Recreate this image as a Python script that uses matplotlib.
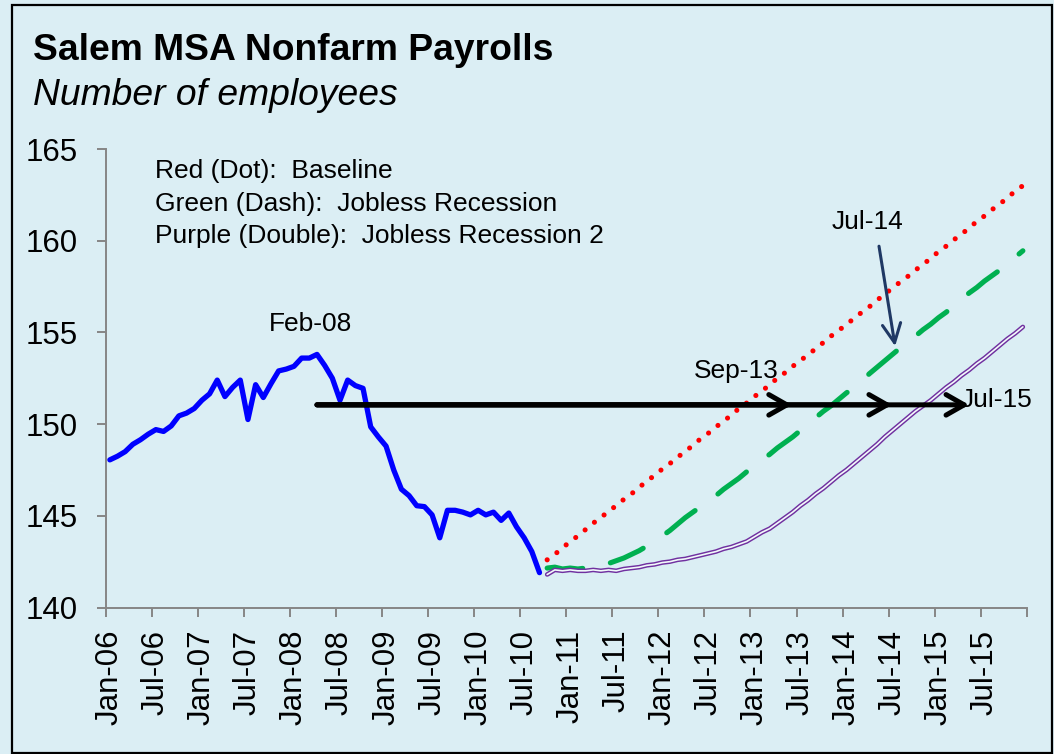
import matplotlib
matplotlib.use("Agg")
import matplotlib.pyplot as plt
from matplotlib.patches import FancyArrowPatch, Rectangle

# ---------------- data (thousands of employees, monthly Jan-06 .. Dec-15) ----------------
actual_values = [
    148.05, 148.25, 148.5, 148.9, 149.15, 149.45, 149.7, 149.6, 149.9, 150.45,
    150.6, 150.85, 151.3, 151.65, 152.4, 151.5, 152.0, 152.4, 150.25, 152.15,
    151.45, 152.2, 152.9, 153.0, 153.15, 153.6, 153.6, 153.8, 153.2, 152.5,
    151.3, 152.4, 152.1, 151.95, 149.85, 149.3, 148.8, 147.5, 146.45, 146.1,
    145.55, 145.5, 145.05, 143.8, 145.3, 145.3, 145.2, 145.05, 145.3, 145.05,
    145.2, 144.75, 145.15, 144.4, 143.8, 143.05, 141.9,
]
baseline_values = [
    142.6, 142.9, 143.25, 143.6, 143.9, 144.25, 144.6, 144.9, 145.25, 145.55,
    145.9, 146.2, 146.55, 146.9, 147.2, 147.55, 147.85, 148.2, 148.5, 148.85,
    149.2, 149.5, 149.85, 150.15, 150.5, 150.85, 151.15, 151.5, 151.8, 152.15,
    152.5, 152.8, 153.15, 153.45, 153.8, 154.1, 154.45, 154.8, 155.1, 155.45,
    155.75, 156.1, 156.4, 156.75, 157.1, 157.4, 157.75, 158.05, 158.4, 158.7,
    159.05, 159.4, 159.7, 160.05, 160.35, 160.7, 161.05, 161.35, 161.7, 162.0,
    162.35, 162.7, 163.0,
]
jobless_values = [
    142.15, 142.2, 142.1, 142.15, 142.1, 142.15, 142.2, 142.3, 142.4, 142.55,
    142.7, 142.9, 143.1, 143.35, 143.6, 143.9, 144.2, 144.55, 144.9, 145.2,
    145.5, 145.8, 146.1, 146.45, 146.75, 147.05, 147.4, 147.7, 148.05, 148.35,
    148.7, 149.0, 149.3, 149.65, 150.0, 150.35, 150.7, 151.0, 151.35, 151.7,
    152.0, 152.35, 152.75, 153.1, 153.45, 153.8, 154.15, 154.45, 154.8, 155.15,
    155.45, 155.8, 156.1, 156.45, 156.8, 157.15, 157.45, 157.8, 158.1, 158.4,
    158.8, 159.1, 159.45,
]
jobless2_values = [
    141.8, 142.05, 142.0, 142.05, 142.0, 142.0, 142.05, 142.0, 142.05, 142.0,
    142.1, 142.15, 142.2, 142.3, 142.35, 142.45, 142.5, 142.6, 142.65, 142.75,
    142.85, 142.95, 143.05, 143.2, 143.3, 143.45, 143.6, 143.85, 144.1, 144.3,
    144.6, 144.9, 145.2, 145.55, 145.85, 146.2, 146.5, 146.85, 147.2, 147.5,
    147.85, 148.2, 148.55, 148.9, 149.3, 149.65, 150.0, 150.35, 150.7, 151.0,
    151.3, 151.65, 152.0, 152.3, 152.65, 152.95, 153.3, 153.6, 153.95, 154.3,
    154.65, 154.95, 155.3,
]
tick_labels = [
    "Jan-06", "Jul-06", "Jan-07", "Jul-07", "Jan-08", "Jul-08", "Jan-09", "Jul-09",
    "Jan-10", "Jul-10", "Jan-11", "Jul-11", "Jan-12", "Jul-12", "Jan-13", "Jul-13",
    "Jan-14", "Jul-14", "Jan-15", "Jul-15",
]
n_months = 120
forecast_start = len(actual_values)

# annotation anchors (month index, value)
arrow_level = 151.05
arrow_start = 27
arrow_ends = [88.9, 101.95, 112.0]
annotations = [("Feb-08", 26.2, 155.45), ("Sep-13", 81.6, 152.9),
               ("Jul-14", 98.8, 161.0), ("Jul-15", 115.5, 151.3)]
jul14_arrow = [(100.25, 159.7), (102.35, 154.25)]

# ---------------- style ----------------
BG = "#DBEEF4"
FONT = "Liberation Sans"
plt.rcParams["font.family"] = [FONT, "DejaVu Sans"]

W, H = 1054, 754
fig = plt.figure(figsize=(W / 100, H / 100), dpi=100, facecolor=BG)
ax = fig.add_axes([106 / W, 1 - 607.5 / H, (1026.7 - 106) / W, (607.5 - 149) / H])
ax.set_facecolor(BG)

x_act = list(range(forecast_start))
x_fc = list(range(forecast_start, n_months))

ax.plot(x_act, actual_values, color="#0000FF", lw=3.8, solid_joinstyle="round",
        solid_capstyle="round", zorder=5)
ax.plot(x_fc, baseline_values, color="#FF0000", lw=3.7,
        linestyle=(0, (0.001, 2.35)), dash_capstyle="round", zorder=4)
ax.plot(x_fc, jobless_values, color="#00B050", lw=3.7,
        linestyle=(0, (7.0, 5.5)), dash_capstyle="round", zorder=4)
# double line: purple outline with a light core
ax.plot(x_fc, jobless2_values, color="#7030A0", lw=3.3, solid_joinstyle="round",
        solid_capstyle="round", zorder=4)
ax.plot(x_fc, jobless2_values, color="#F2F9FB", lw=1.2, solid_joinstyle="round",
        solid_capstyle="round", zorder=4.1)

# horizontal arrows
for xe in arrow_ends:
    arr = FancyArrowPatch((arrow_start, arrow_level), (xe, arrow_level),
                          arrowstyle="->,head_length=0.65,head_width=0.37",
                          mutation_scale=20, lw=3.6, color="black",
                          shrinkA=0, shrinkB=0, zorder=6)
    ax.add_patch(arr)

arr = FancyArrowPatch(jul14_arrow[0], jul14_arrow[1],
                      arrowstyle="->,head_length=0.68,head_width=0.33",
                      mutation_scale=20, lw=2.2, color="#1F3864",
                      shrinkA=0, shrinkB=0, zorder=6)
ax.add_patch(arr)

for txt, xi, yv in annotations:
    ax.text(xi, yv, txt, fontsize=19, ha="center", va="center", color="black", zorder=7)

# axes
ax.set_xlim(-0.5, n_months - 0.5)
ax.set_ylim(140, 165)
ax.set_yticks([140, 145, 150, 155, 160, 165])
ax.set_yticklabels(["140", "145", "150", "155", "160", "165"])
ax.set_xticks([k - 0.5 for k in range(0, n_months + 1, 6)])
ax.set_xticklabels([])
ax.set_xticks(list(range(0, n_months, 6)), minor=True)
ax.set_xticklabels(tick_labels, minor=True, rotation=90, fontsize=22.5)
ax.tick_params(axis="x", which="major", direction="out", length=6.5, width=1.4,
               color="#868686")
ax.tick_params(axis="x", which="minor", length=0, pad=16)
ax.tick_params(axis="y", direction="out", length=6.5, width=1.4, color="#868686",
               labelsize=22.5, pad=14)
for s in ["top", "right"]:
    ax.spines[s].set_visible(False)
for s in ["left", "bottom"]:
    ax.spines[s].set_color("#868686")
    ax.spines[s].set_linewidth(1.4)

# titles and legend text
fig.text(33 / W, 1 - 60 / H, "Salem MSA Nonfarm Payrolls", fontsize=26.8,
         fontweight="bold", ha="left", va="baseline")
fig.text(33 / W, 1 - 105 / H, "Number of employees", fontsize=26.8,
         style="italic", ha="left", va="baseline")
legend_lines = ["Red (Dot):  Baseline", "Green (Dash):  Jobless Recession",
                "Purple (Double):  Jobless Recession 2"]
for k, line in enumerate(legend_lines):
    fig.text(155 / W, 1 - (171 + 32.5 * k) / H, line, fontsize=19,
             ha="left", va="center")

# outer border
fig.patches.append(Rectangle((11.5 / W, 1.5 / H), (1051.5 - 11.5) / W, (749 - 1.5) / H,
                             transform=fig.transFigure, fill=False,
                             edgecolor="black", lw=1.6))

fig.savefig("out.png", dpi=100, facecolor=BG)
